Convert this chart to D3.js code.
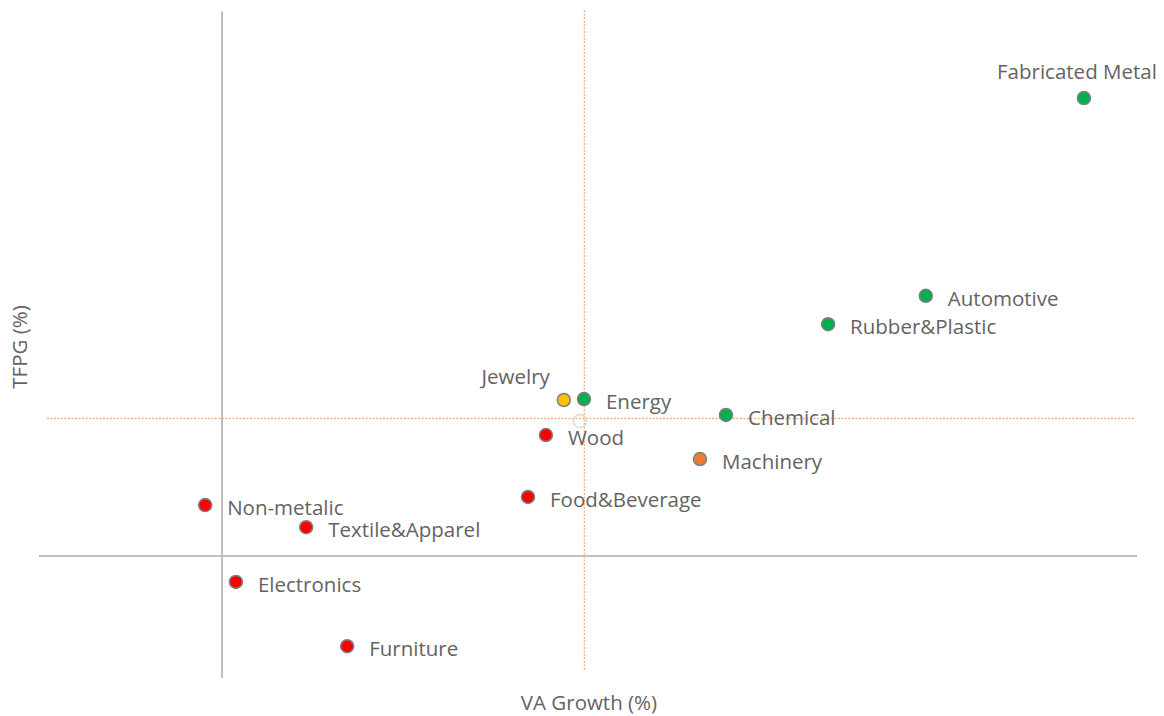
<!DOCTYPE html>
<html>
<head>
<meta charset="utf-8">
<script src="https://cdn.jsdelivr.net/npm/d3@7"></script>
<style>
  body { margin: 0; background: #fff; }
  text { font-family: "Open Sans", "Noto Sans", sans-serif; fill: #636363; }
</style>
</head>
<body>
<svg id="chart" width="1164" height="716"></svg>
<script>
// sectors, VA growth (x) and TFP growth (y), quadrant colour group
var sectors = ["Fabricated Metal", "Automotive", "Rubber&Plastic", "Jewelry", "Energy", "Chemical",
               "Wood", "Machinery", "Food&Beverage", "Non-metalic", "Textile&Apparel", "Electronics", "Furniture"];
var vaGrowth = [23.55, 19.23, 16.56, 9.34, 9.89, 13.77, 8.85, 13.06, 8.36, -0.46, 2.30, 0.38, 3.42];
var tfpGrowth = [9.54, 5.42, 4.83, 3.25, 3.27, 2.94, 2.52, 2.02, 1.23, 1.06, 0.60, -0.54, -1.88];
var groups = ["high", "high", "high", "mid", "high", "high", "low", "watch", "low", "low", "low", "low", "low"];

// reference lines (average) and the average marker
var avgVA = [9.9];
var avgTFP = [2.865];
var avgPoint = [[9.78, 2.81]];

var width = 1164, height = 716;
var svg = d3.select("#chart");

var x = d3.scaleLinear().domain([-5, 25]).range([39, 1137]);
var y = d3.scaleLinear().domain([-2.5, 11.3]).range([676, 13.6]);

var colour = d3.scaleOrdinal()
               .domain(["high", "mid", "watch", "low"])
               .range(["#00b050", "#ffc000", "#ed7d31", "#ff0000"]);

// zero axes
svg.append("line")
   .attr("x1", x(-5)).attr("x2", x(25))
   .attr("y1", y(0)).attr("y2", y(0))
   .attr("stroke", "#bfbfbf").attr("stroke-width", 2);
svg.append("line")
   .attr("x1", x(0)).attr("x2", x(0))
   .attr("y1", y(11.3) - 2).attr("y2", y(-2.5) + 2)
   .attr("stroke", "#bfbfbf").attr("stroke-width", 2);

// average lines
svg.selectAll(".avg-v")
   .data(avgVA)
   .enter().append("line")
   .attr("x1", d => x(d)).attr("x2", d => x(d))
   .attr("y1", 10).attr("y2", 670)
   .attr("stroke", "#f4b183").attr("stroke-width", 1.3)
   .attr("stroke-dasharray", "2,1.5");
svg.selectAll(".avg-h")
   .data(avgTFP)
   .enter().append("line")
   .attr("x1", 47).attr("x2", 1135)
   .attr("y1", d => y(d)).attr("y2", d => y(d))
   .attr("stroke", "#f4b183").attr("stroke-width", 1.3)
   .attr("stroke-dasharray", "2,1.5");

svg.selectAll(".avg-pt")
   .data(avgPoint)
   .enter().append("circle")
   .attr("cx", d => x(d[0])).attr("cy", d => y(d[1]))
   .attr("r", 6.5)
   .attr("fill", "none")
   .attr("stroke", "#d9d9d9").attr("stroke-width", 1.5);

var data = sectors.map((s, i) => ({ name: s, va: vaGrowth[i], tfp: tfpGrowth[i], group: groups[i] }));

// label placement (default: right of the point)
var labelPos = {
    "Fabricated Metal": { dx: -7, dy: -26, anchor: "middle" },
    "Jewelry": { dx: -14, dy: -23, anchor: "end" }
};

svg.selectAll(".dot")
   .data(data)
   .enter().append("circle")
   .attr("class", "dot")
   .attr("cx", d => x(d.va)).attr("cy", d => y(d.tfp))
   .attr("r", 6.5)
   .attr("fill", d => colour(d.group))
   .attr("stroke", "#7f7f7f").attr("stroke-width", 1.5);

svg.selectAll(".label")
   .data(data)
   .enter().append("text")
   .attr("class", "label")
   .attr("x", d => x(d.va) + (labelPos[d.name] ? labelPos[d.name].dx : 22))
   .attr("y", d => y(d.tfp) + (labelPos[d.name] ? labelPos[d.name].dy : 3))
   .attr("dy", "0.35em")
   .attr("text-anchor", d => labelPos[d.name] ? labelPos[d.name].anchor : "start")
   .attr("font-size", 20.5)
   .text(d => d.name);

// axis titles
svg.append("text")
   .attr("x", 589).attr("y", 703)
   .attr("dy", "0.35em")
   .attr("text-anchor", "middle")
   .attr("font-size", 20.5)
   .text("VA Growth (%)");
svg.append("text")
   .attr("transform", "translate(20, 347) rotate(-90)")
   .attr("dy", "0.35em")
   .attr("text-anchor", "middle")
   .attr("font-size", 20.5)
   .text("TFPG (%)");
</script>
</body>
</html>
